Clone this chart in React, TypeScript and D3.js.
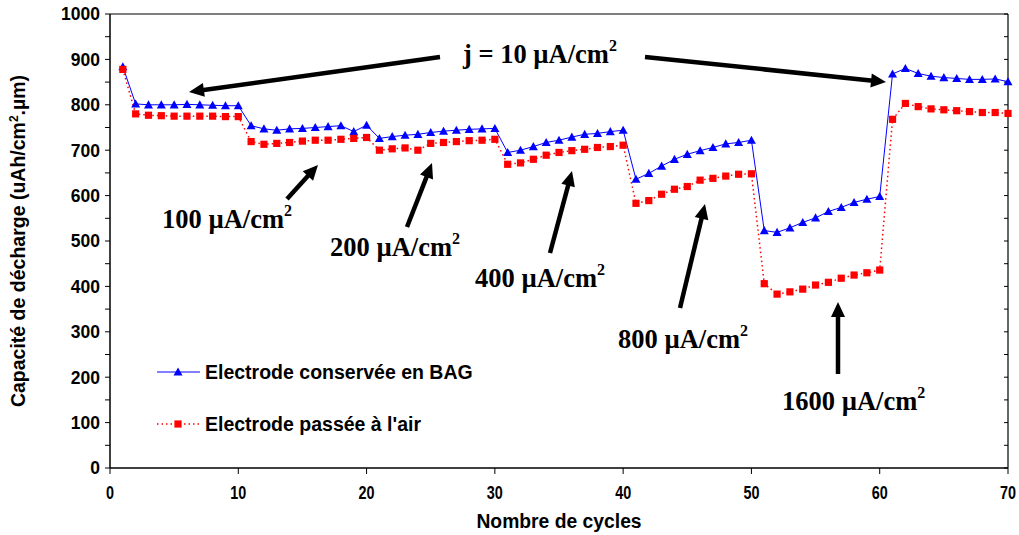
import React from "react";
import * as d3 from "d3";

const cycles = d3.range(1, 71);
const blueValues = [
  884, 802, 800, 800, 800, 801, 800, 799, 798, 798,
  754, 747, 744, 747, 748, 750, 752, 754, 741, 755,
  726, 730, 733, 735, 739, 742, 744, 746, 747, 748,
  695, 700, 708, 717, 722, 729, 735, 737, 741, 744,
  636, 649, 665, 680, 691, 699, 706, 714, 717, 722,
  523, 519, 529, 541, 551, 565, 574, 585, 592, 598,
  868, 880, 869, 863, 860, 858, 856, 856, 857, 851,
];
const redValues = [
  878, 780, 777, 776, 775, 775, 775, 775, 774, 774,
  719, 713, 715, 717, 720, 722, 722, 724, 726, 728,
  700, 703, 705, 700, 715, 717, 719, 721, 722, 724,
  669, 672, 680, 689, 695, 699, 702, 706, 708, 711,
  583, 589, 603, 614, 620, 634, 638, 643, 647, 648,
  406, 383, 388, 394, 403, 409, 418, 425, 430, 436,
  768, 803, 796, 791, 789, 787, 785, 783, 783, 781,
];
const xTicks = [0, 10, 20, 30, 40, 50, 60, 70];
const yTicks = [0, 100, 200, 300, 400, 500, 600, 700, 800, 900, 1000];
const yMinorTicks = d3.range(0, 1001, 50);
const seriesNames = ["Electrode conservée en BAG", "Electrode passée à l'air"];
const annotations = [
  { text: "j = 10 µA/cm", x: 463, y: 63 },
  { text: "100 µA/cm", x: 162, y: 228 },
  { text: "200 µA/cm", x: 330, y: 256 },
  { text: "400 µA/cm", x: 475, y: 287 },
  { text: "800 µA/cm", x: 618, y: 348 },
  { text: "1600 µA/cm", x: 782, y: 410 },
];
const arrows = [
  { x1: 440, y1: 57, x2: 189, y2: 92 },
  { x1: 645, y1: 57, x2: 886, y2: 82 },
  { x1: 287, y1: 199, x2: 318, y2: 165 },
  { x1: 407, y1: 227, x2: 432, y2: 163 },
  { x1: 550, y1: 253, x2: 572, y2: 171 },
  { x1: 680, y1: 308, x2: 705, y2: 204 },
  { x1: 838, y1: 374, x2: 838, y2: 302 },
];

const L = 110, R = 1008, T = 14, B = 468;
const x = d3.scaleLinear().domain([0, 70]).range([L, R]);
const y = d3.scaleLinear().domain([0, 1000]).range([B, T]);

const SANS = "'Liberation Sans', Arial, sans-serif";
const SERIF = "'Liberation Serif', 'Times New Roman', serif";

function Triangle({ cx, cy }: { cx: number; cy: number }) {
  const s = 4.5;
  return <path d={`M${cx},${cy - s}L${cx + s},${cy + s * 0.8}L${cx - s},${cy + s * 0.8}Z`} fill="#0000FF" />;
}
function Square({ cx, cy }: { cx: number; cy: number }) {
  const s = 3.6;
  return <rect x={cx - s} y={cy - s} width={2 * s} height={2 * s} fill="#FF0000" />;
}

function Arrow({ x1, y1, x2, y2 }: { x1: number; y1: number; x2: number; y2: number }) {
  const dx = x2 - x1, dy = y2 - y1;
  const len = Math.sqrt(dx * dx + dy * dy);
  const ux = dx / len, uy = dy / len;
  const hl = 15, hw = 7;
  const bx = x2 - ux * hl, by = y2 - uy * hl;
  const px = -uy, py = ux;
  return (
    <g>
      <line x1={x1} y1={y1} x2={bx + ux * 2} y2={by + uy * 2} stroke="#000" strokeWidth={4.5} />
      <path d={`M${x2},${y2}L${bx + px * hw},${by + py * hw}L${bx - px * hw},${by - py * hw}Z`} fill="#000" />
    </g>
  );
}

export default function App() {
  const blueLine = d3.line<number>().x((_, i) => x(cycles[i])).y((d) => y(d))(blueValues) || "";
  const redLine = d3.line<number>().x((_, i) => x(cycles[i])).y((d) => y(d))(redValues) || "";
  return (
    <svg width={1019} height={535} style={{ position: "absolute", left: 0, top: 0, background: "#fff" }}>
      <rect x={0} y={0} width={1019} height={535} fill="#fff" />
      {/* frame */}
      <line x1={L} y1={T} x2={R} y2={T} stroke="#000" strokeWidth={1.2} />
      <line x1={R} y1={T} x2={R} y2={B} stroke="#000" strokeWidth={1.2} />
      <line x1={L} y1={T} x2={L} y2={B} stroke="#000" strokeWidth={1.5} />
      <line x1={L} y1={B} x2={R} y2={B} stroke="#000" strokeWidth={1.5} />
      {yMinorTicks.map((t) => (
        <g key={"ym" + t}>
          <line x1={L - 5} y1={y(t)} x2={L} y2={y(t)} stroke="#000" strokeWidth={1} />
          <line x1={R - 4} y1={y(t)} x2={R} y2={y(t)} stroke="#000" strokeWidth={1} />
        </g>
      ))}
      {yTicks.map((t) => (
        <text key={"yt" + t} x={L - 10} y={y(t)} dy="0.36em" textAnchor="end" fontFamily={SANS} fontWeight="bold" fontSize={17.5}>
          {t}
        </text>
      ))}
      {xTicks.map((t) => (
        <g key={"xt" + t}>
          <line x1={x(t)} y1={B} x2={x(t)} y2={B + 6} stroke="#000" strokeWidth={1} />
          <text transform={`translate(${x(t)},${B + 31}) scale(0.8,1)`} textAnchor="middle" fontFamily={SANS} fontWeight="bold" fontSize={18}>
            {t}
          </text>
        </g>
      ))}
      <text transform={`translate(${(L + R) / 2},528) scale(0.92,1)`} textAnchor="middle" fontFamily={SANS} fontWeight="bold" fontSize={21}>
        Nombre de cycles
      </text>
      <text transform={`translate(25,${(T + B) / 2}) rotate(-90)`} textAnchor="middle" fontFamily={SANS} fontWeight="bold" fontSize={19.5}>
        Capacité de décharge (uAh/cm<tspan fontSize={12} dy={-7}>2</tspan><tspan dy={7}>.µm)</tspan>
      </text>

      {/* series */}
      <path d={redLine} fill="none" stroke="#FF0000" strokeWidth={1.5} strokeDasharray="1.5,3" />
      <path d={blueLine} fill="none" stroke="#0000FF" strokeWidth={1} />
      {blueValues.map((v, i) => (
        <Triangle key={"b" + i} cx={x(cycles[i])} cy={y(v)} />
      ))}
      {redValues.map((v, i) => (
        <Square key={"r" + i} cx={x(cycles[i])} cy={y(v)} />
      ))}

      {/* legend */}
      <line x1={157} y1={372} x2={200} y2={372} stroke="#0000FF" strokeWidth={1} />
      <Triangle cx={178} cy={372} />
      <text x={205} y={372} dy="0.36em" fontFamily={SANS} fontWeight="bold" fontSize={19.5}>
        {seriesNames[0]}
      </text>
      <line x1={157} y1={424} x2={200} y2={424} stroke="#FF0000" strokeWidth={1.5} strokeDasharray="1.5,3" />
      <Square cx={178} cy={424} />
      <text x={205} y={424} dy="0.36em" fontFamily={SANS} fontWeight="bold" fontSize={19.5}>
        {seriesNames[1]}
      </text>

      {/* annotations */}
      {arrows.map((a, i) => (
        <Arrow key={"a" + i} {...a} />
      ))}
      {annotations.map((a, i) => (
        <text key={"an" + i} x={a.x} y={a.y} fontFamily={SERIF} fontWeight="bold" fontSize={26.5}>
          {a.text}
          <tspan fontSize={16} dy={-12}>2</tspan>
        </text>
      ))}
    </svg>
  );
}
